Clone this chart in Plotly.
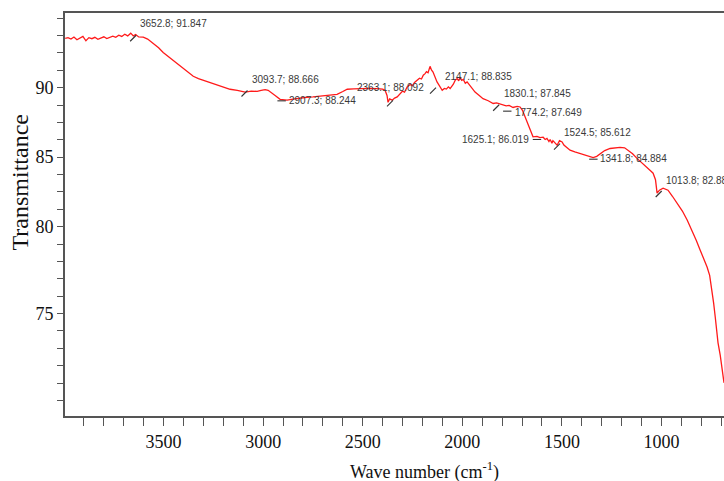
import plotly.graph_objects as go

# FTIR spectrum
WAVENUMBER = [3994, 3980, 3965, 3950, 3935, 3920, 3905, 3890, 3875, 3860,
              3845, 3830, 3815, 3800, 3785, 3770, 3755, 3740, 3725, 3710,
              3695, 3680, 3665, 3652, 3640, 3625, 3602, 3580, 3552, 3525,
              3502, 3478, 3452, 3425, 3402, 3375, 3351, 3325, 3301, 3265,
              3231, 3200, 3166, 3130, 3090, 3060, 3030, 3010, 2990, 2975,
              2965, 2940, 2915, 2880, 2850, 2814, 2780, 2750, 2714, 2670,
              2629, 2600, 2578, 2545, 2513, 2470, 2428, 2400, 2388, 2378,
              2373, 2365, 2352, 2340, 2327, 2315, 2300, 2290, 2277, 2262,
              2250, 2240, 2227, 2215, 2205, 2196, 2187, 2180, 2172, 2162,
              2155, 2147, 2127, 2101, 2090, 2080, 2070, 2061, 2045, 2035,
              2026, 2018, 2011, 2003, 1995, 1985, 1976, 1955, 1936, 1915,
              1896, 1870, 1845, 1828, 1810, 1795, 1780, 1765, 1745, 1725,
              1710, 1698, 1685, 1672, 1660, 1645, 1625, 1610, 1594, 1584,
              1575, 1565, 1559, 1550, 1545, 1535, 1524, 1512, 1499, 1490,
              1480, 1470, 1459, 1435, 1409, 1380, 1343, 1325, 1308, 1285,
              1258, 1232, 1208, 1185, 1168, 1145, 1123, 1095, 1072, 1055,
              1042, 1030, 1022, 1010, 992, 980, 967, 945, 922, 895,
              871, 855, 841, 825, 806, 790, 771, 758, 746, 738,
              730, 722, 716, 705, 696, 686]
TRANSMITTANCE = [91.84, 91.88, 91.80, 91.92, 91.76, 91.86, 91.95, 91.70, 91.88, 91.82,
                 91.90, 91.79, 91.87, 91.93, 91.83, 91.90, 91.97, 91.90, 92.02, 91.95,
                 92.08, 91.98, 92.14, 91.98, 92.06, 91.92, 91.91, 91.80, 91.55, 91.30,
                 91.03, 90.82, 90.57, 90.36, 90.11, 89.88, 89.66, 89.52, 89.43, 89.27,
                 89.14, 89.02, 88.91, 88.84, 88.75, 88.80, 88.79, 88.84, 88.89, 88.85,
                 88.75, 88.55, 88.33, 88.28, 88.34, 88.41, 88.45, 88.47, 88.51, 88.55,
                 88.62, 88.78, 88.91, 88.93, 88.95, 88.96, 88.95, 88.92, 88.85, 88.55,
                 88.16, 88.35, 88.28, 88.40, 88.47, 88.62, 88.80, 88.74, 89.04, 89.18,
                 89.12, 89.30, 89.43, 89.55, 89.50, 89.72, 89.81, 89.92, 89.86, 90.23,
                 90.02, 89.90, 89.33, 88.85, 88.96, 88.92, 89.05, 88.95, 89.20, 89.45,
                 89.52, 89.40, 89.61, 89.42, 89.48, 89.25, 89.33, 89.05, 88.75, 88.55,
                 88.37, 88.25, 88.09, 88.12, 88.05, 87.98, 87.95, 87.98, 87.86, 87.92,
                 87.89, 87.70, 87.32, 87.00, 86.65, 86.17, 86.20, 86.13, 86.15, 86.02,
                 86.08, 85.90, 86.02, 85.80, 85.95, 85.80, 85.69, 85.95, 85.88, 85.70,
                 85.62, 85.50, 85.40, 85.30, 85.21, 85.10, 84.98, 85.05, 85.21, 85.38,
                 85.50, 85.55, 85.56, 85.54, 85.40, 85.20, 84.93, 84.62, 84.35, 84.22,
                 84.08, 83.70, 82.93, 83.10, 83.22, 83.18, 83.10, 82.75, 82.36, 81.90,
                 81.38, 81.00, 80.63, 80.20, 79.66, 79.25, 78.68, 78.20, 77.36, 76.60,
                 75.80, 74.90, 74.31, 73.60, 72.93, 72.01]

# labelled band positions (wavenumber; transmittance)
PEAK_WN = [3652.8, 3093.7, 2907.3, 2363.1, 2147.1, 1830.1, 1774.2, 1625.1, 1524.5, 1341.8, 1013.8]
PEAK_T = [91.847, 88.666, 88.244, 88.092, 88.835, 87.845, 87.649, 86.019, 85.612, 84.884, 82.88]

X_TICKS = [3500, 3000, 2500, 2000, 1500, 1000]
Y_TICK_TEXT = ["90", "85", "80", "75"]
Y_TICK_AT = [89, 85, 81, 76]

# label placement (xshift px, yshift px, anchor, marker symbol)
LABEL_STYLE = [(5, 15, "left", "line-ne"), (5, 14, "left", "line-ne"), (5, 0, "left", "line-ew"),
               (0, 16, "center", "line-ne"), (10, 14, "left", "line-ne"), (6, 14, "left", "line-ne"),
               (6, -1, "left", "line-ew"), (-6, 0, "right", "line-ew"), (5, 14, "left", "line-ne"),
               (5, 1, "left", "line-ew"), (5, 14, "left", "line-ne")]

fig = go.Figure()
fig.add_trace(go.Scatter(x=WAVENUMBER, y=TRANSMITTANCE, mode="lines",
                         line=dict(color="#ff1a1a", width=1.3), hoverinfo="skip"))
fig.add_trace(go.Scatter(x=PEAK_WN, y=PEAK_T, mode="markers",
                         marker=dict(symbol=[s[3] for s in LABEL_STYLE], size=6,
                                     line=dict(color="#333", width=1.1), color="#333"),
                         hoverinfo="skip"))

for wn, t, (dx, dy, anc, _) in zip(PEAK_WN, PEAK_T, LABEL_STYLE):
    fig.add_annotation(x=wn, y=t, xref="x", yref="y", text=f"{wn}; {t}", showarrow=False,
                       xanchor=anc, yanchor="middle", xshift=dx, yshift=dy,
                       font=dict(family="Liberation Sans, Arial", size=10, color="#3a3a3a"))

fig.add_annotation(x=0.546, y=-0.137, xref="paper", yref="paper", showarrow=False,
                   text="Wave number (cm<sup>-1</sup>)", xanchor="center", yanchor="middle",
                   font=dict(family="Liberation Serif, Times New Roman", size=18, color="#111"))
fig.add_annotation(x=-0.068, y=0.58, xref="paper", yref="paper", showarrow=False,
                   text="Transmittance", textangle=-90, xanchor="center", yanchor="middle",
                   font=dict(family="Liberation Serif, Times New Roman", size=24, color="#111"))

axis_font = dict(family="Liberation Serif, Times New Roman", size=18, color="#111")
fig.update_xaxes(range=[3995, 686], tickmode="array", tickvals=X_TICKS,
                 ticks="outside", ticklen=8, tickwidth=1.3, tickcolor="#555",
                 minor=dict(tickmode="linear", tick0=0, dtick=100, ticks="outside",
                            ticklen=8, tickwidth=1.3, tickcolor="#555", showgrid=False),
                 showline=True, linecolor="#555", linewidth=2, mirror=True,
                 showgrid=False, zeroline=False, tickfont=axis_font)
fig.update_yaxes(range=[70.1, 93.3], tickmode="array", tickvals=Y_TICK_AT, ticktext=Y_TICK_TEXT,
                 ticks="outside", ticklen=6, tickwidth=1.3, tickcolor="#555",
                 minor=dict(tickmode="linear", tick0=0, dtick=1, ticks="outside",
                            ticklen=6, tickwidth=1.3, tickcolor="#555", showgrid=False),
                 showline=True, linecolor="#555", linewidth=2, mirror=False,
                 showgrid=False, zeroline=False, tickfont=axis_font)

fig.update_layout(width=724, height=481, margin=dict(l=65, r=0, t=13, b=65),
                  paper_bgcolor="white", plot_bgcolor="white", showlegend=False)

fig.write_html("out.html", config={"displayModeBar": False},
               post_script="document.body.style.margin='0';document.body.style.overflow='hidden';")
